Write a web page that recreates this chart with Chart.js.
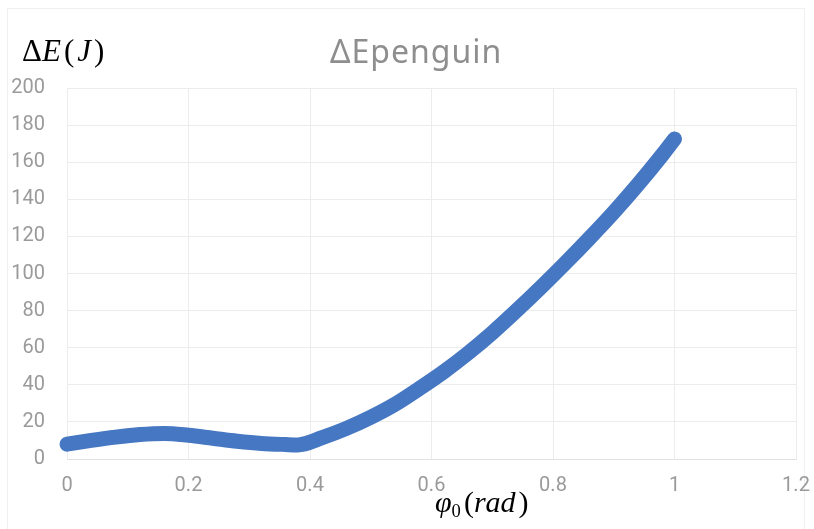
<!DOCTYPE html>
<html>
<head>
<meta charset="utf-8">
<script src="https://cdn.jsdelivr.net/npm/chart.js@4/dist/chart.umd.min.js"></script>
<style>
  html, body { margin: 0; padding: 0; background: #ffffff; }
  #wrap { position: relative; width: 814px; height: 529px; overflow: hidden; }
  #frame { position: absolute; left: 7px; top: 8px; width: 798px; height: 540px;
           border: 1px solid #f0f0f0; box-sizing: border-box; }
  canvas { position: absolute; left: 0; top: 0; }
  .lbl { position: absolute; white-space: nowrap; line-height: 1; color: #000;
         font-family: "Liberation Serif", "DejaVu Serif", serif; }
  .lbl i { font-style: italic; }
  .lbl .sp { margin-left: 3px; }
  .lbl sub { font-size: 0.62em; vertical-align: -0.25em; font-style: normal; }
  #title { position: absolute; left: 330px; top: 35px; white-space: nowrap;
           font-family: "Noto Sans", "Open Sans", sans-serif; font-size: 32px;
           color: #8e8e8e; line-height: 1; letter-spacing: 1px; }
</style>
</head>
<body>
<div id="wrap">
  <div id="frame"></div>
  <canvas id="c" width="814" height="529"></canvas>
  <div id="title">ΔEpenguin</div>
  <div class="lbl" id="ylab" style="left:22px; top:35px; font-size:31px;">Δ<i>E</i><span class="sp">(</span><i class="sp">J</i><span class="sp">)</span></div>
  <div class="lbl" id="xlab" style="left:435px; top:487px; font-size:30px;"><i>φ</i><sub>0</sub><span class="sp">(</span><i>rad</i><span class="sp">)</span></div>
</div>
<script>
// initial angle (rad) and energy difference (J)
const phi0 = [0, 0.04, 0.08, 0.12, 0.16, 0.20, 0.24, 0.28, 0.32, 0.36, 0.38,
              0.42, 0.46, 0.50, 0.54, 0.58, 0.62, 0.66, 0.70, 0.74, 0.78,
              0.82, 0.86, 0.90, 0.94, 0.98, 1.00];
const deltaE = [8, 10, 11.8, 13.2, 13.8, 12.8, 11.2, 9.6, 8.4, 7.8, 7.6,
                11.5, 16.5, 22.5, 29.5, 38, 47, 57, 68, 80, 92.5,
                105.5, 119, 133, 148, 164, 172.5];

// axis ticks
const xTickValues = [0, 0.2, 0.4, 0.6, 0.8, 1, 1.2];
const yTickValues = [0, 20, 40, 60, 80, 100, 120, 140, 160, 180, 200];

const points = phi0.map((x, i) => ({ x: x, y: deltaE[i] }));

const tickFont = { family: "Roboto, 'Noto Sans', sans-serif", size: 20 };
const gridColor = '#ececec';

new Chart(document.getElementById('c'), {
  type: 'line',
  data: {
    datasets: [{
      label: 'ΔEpenguin',
      data: points,
      borderColor: '#4677c2',
      backgroundColor: '#4677c2',
      borderWidth: 15,
      borderCapStyle: 'round',
      borderJoinStyle: 'round',
      cubicInterpolationMode: 'monotone',
      pointRadius: 0,
      pointHoverRadius: 0,
      fill: false,
      clip: false
    }]
  },
  options: {
    responsive: false,
    devicePixelRatio: 1,
    animation: false,
    layout: { padding: { left: 0, right: 18, top: 88, bottom: 30 } },
    plugins: {
      legend: { display: false },
      title: { display: false },
      tooltip: { enabled: false }
    },
    scales: {
      x: {
        type: 'linear',
        min: xTickValues[0],
        max: xTickValues[xTickValues.length - 1],
        afterBuildTicks: s => { s.ticks = xTickValues.map(v => ({ value: v })); },
        afterFit: s => { s.height = 40; s.paddingLeft = 0; s.paddingRight = 0; },
        grid: { color: gridColor, drawTicks: false, lineWidth: 1 },
        border: { display: true, color: '#e2e2e2', width: 1 },
        ticks: { color: '#9a9a9a', font: tickFont, padding: 15, maxRotation: 0,
                 callback: v => String(v) }
      },
      y: {
        type: 'linear',
        min: yTickValues[0],
        max: yTickValues[yTickValues.length - 1],
        afterBuildTicks: s => { s.ticks = yTickValues.map(v => ({ value: v })); },
        afterFit: s => { s.width = 67; s.paddingTop = 0; s.paddingBottom = 0; },
        grid: { color: gridColor, drawTicks: false, lineWidth: 1 },
        border: { display: false },
        ticks: { color: '#9a9a9a', font: tickFont, padding: 22,
                 callback: v => String(v) }
      }
    }
  }
});
</script>
</body>
</html>
